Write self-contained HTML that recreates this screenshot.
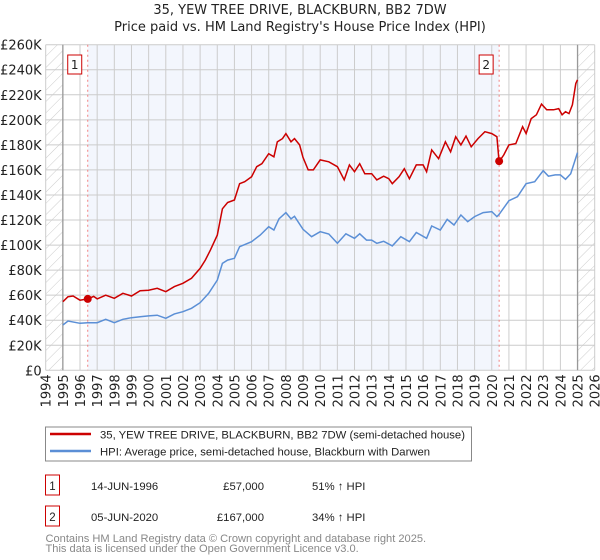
<!DOCTYPE html>
<html><head><meta charset="utf-8"><style>
body{margin:0;background:#fff;font-family:"Liberation Sans","DejaVu Sans",sans-serif;}
svg{display:block}
text{font-family:"DejaVu Sans","Liberation Sans",sans-serif;}
text.lib{font-family:"Liberation Sans","DejaVu Sans",sans-serif;}
</style></head><body>
<svg id="c" width="600" height="560"></svg>
<script>
const redYears=[1995,1995.3,1995.6,1996,1996.45,1996.8,1997,1997.5,1998,1998.5,1999,1999.5,2000,2000.5,2001,2001.5,2002,2002.5,2003,2003.3,2003.6,2004,2004.3,2004.6,2005,2005.3,2005.6,2006,2006.3,2006.6,2007,2007.3,2007.5,2007.8,2008,2008.3,2008.5,2008.8,2009,2009.3,2009.6,2010,2010.5,2011,2011.4,2011.7,2012,2012.3,2012.6,2013,2013.3,2013.7,2014,2014.2,2014.6,2014.9,2015.2,2015.6,2016,2016.2,2016.5,2016.9,2017.3,2017.6,2017.9,2018.2,2018.5,2018.8,2019.2,2019.6,2020,2020.3,2020.43,2020.7,2021,2021.4,2021.8,2022,2022.3,2022.6,2022.9,2023.2,2023.6,2023.9,2024.1,2024.3,2024.5,2024.7,2024.9,2025];
const redVals=[54.8,58.8,59.3,56,57,59,57,60,57.5,61.5,59.3,63.6,64,65.5,62.8,66.8,69.5,73.5,81.4,88,96,108,129,134,136,149,150.6,154.6,162.6,165,173,170.5,182.5,185,189,182.5,185,180,170,160,160,168,166.5,162.6,152,164,158.6,165,157,157,152,155,153,149,154.6,161,153,164,164,158.6,176,169,182.5,174.5,186.5,180,187,178.5,185,190.5,189,186.5,166.6,172,180,181,194.5,189,201,204,212.6,208,208,209,204,206.5,205,212,229,232];
const hpiYears=[1995,1995.3,1996,1996.45,1997,1997.5,1998,1998.5,1999,1999.5,2000,2000.5,2001,2001.5,2002,2002.5,2003,2003.5,2004,2004.3,2004.6,2005,2005.3,2006,2006.5,2007,2007.3,2007.6,2008,2008.3,2008.5,2009,2009.5,2010,2010.5,2011,2011.5,2012,2012.3,2012.7,2013,2013.3,2013.7,2014.2,2014.7,2015.2,2015.6,2016.2,2016.5,2017,2017.4,2017.8,2018.2,2018.6,2019,2019.5,2020,2020.3,2020.43,2021,2021.5,2022,2022.5,2023,2023.3,2023.7,2024,2024.3,2024.6,2025];
const hpiVals=[36.2,39.4,37.5,38,38,40.7,38,40.7,42,42.8,43.4,44,41.5,45,46.8,49.5,54,61.5,72,85.4,88,89.4,98.7,102.7,108,114.7,112,121,125.9,121,123,112.6,106.7,110.7,108.8,101.4,109,105.4,109,104,104,101.4,103,99.3,106.7,102.7,110,105.4,115.2,112,120.5,116,124,118.7,122.7,125.9,126.7,122.7,124.5,135.4,138.6,149,150.6,159.4,155,156,156,152.5,157,173.8];
const saleYears=[1996.45,2020.43];
const saleVals=[57,167];
const saleLabels=["1","2"];
const yTicks=[0,20,40,60,80,100,120,140,160,180,200,220,240,260];
const yTickLabels=["£0","£20K","£40K","£60K","£80K","£100K","£120K","£140K","£160K","£180K","£200K","£220K","£240K","£260K"];
const xTicks=[1994,1995,1996,1997,1998,1999,2000,2001,2002,2003,2004,2005,2006,2007,2008,2009,2010,2011,2012,2013,2014,2015,2016,2017,2018,2019,2020,2021,2022,2023,2024,2025,2026];

const L=45.7,R=594.7,T=44.7,B=370.3;
const X=y=>L+(y-1994)/32*(R-L);
const Y=v=>B-v/260*(B-T);
const svg=document.getElementById('c');
const NS='http://www.w3.org/2000/svg';
function mk(tag,attrs,parent){const e=document.createElementNS(NS,tag);for(const k in attrs)e.setAttribute(k,attrs[k]);(parent||svg).appendChild(e);return e;}

const defs=mk('defs',{});
const pat=mk('pattern',{id:'hatch',width:8,height:8,patternUnits:'userSpaceOnUse',patternTransform:'rotate(45)'},defs);
mk('line',{x1:0,y1:0,x2:0,y2:8,stroke:'#ccc','stroke-width':1},pat);

const t1=mk('text',{x:300,y:14,'text-anchor':'middle','font-size':13,fill:'#222'});t1.textContent='35, YEW TREE DRIVE, BLACKBURN, BB2 7DW';


const t2=mk('text',{x:300,y:31,'text-anchor':'middle','font-size':13,fill:'#222'});t2.textContent="Price paid vs. HM Land Registry's House Price Index (HPI)";



const hl=mk('rect',{x:L,y:T,width:X(1995)-L,height:B-T,fill:'url(#hatch)'});


const hr=mk('rect',{x:X(2025),y:T,width:R-X(2025),height:B-T,fill:'url(#hatch)'});


const sh=mk('rect',{x:X(saleYears[0]),y:T,width:X(saleYears[1])-X(saleYears[0]),height:B-T,fill:'#f3f6fd'});



xTicks.forEach(t=>{const g=mk('line',{x1:X(t),x2:X(t),y1:T,y2:B,stroke:'#ccc','stroke-width':1});


const tx=mk('text',{x:0,y:0,'font-size':13,fill:'#222','text-anchor':'end',transform:`translate(${X(t)+5},${B+4}) rotate(-90)`});tx.textContent=t;

});
yTicks.forEach((v,i)=>{const g=mk('line',{x1:L,x2:R,y1:Y(v),y2:Y(v),stroke:'#ccc','stroke-width':1});


const tx=mk('text',{x:L-4,y:Y(v)+5,'font-size':13,fill:'#222','text-anchor':'end'});tx.textContent=yTickLabels[i];

});
[1995,2025].forEach(t=>{const g=mk('line',{x1:X(t),x2:X(t),y1:T,y2:B,stroke:'#999','stroke-width':1.3});

});

saleYears.forEach((s,i)=>{const g=mk('line',{x1:X(s),x2:X(s),y1:T,y2:B,stroke:'#f08080','stroke-width':1,'stroke-dasharray':'2,3'});


const r=mk('rect',{x:X(s)-20,y:55,width:14,height:19,fill:'#fff',stroke:'#c00','stroke-width':1});


const tx=mk('text',{x:X(s)-13,y:69,'font-size':12,'text-anchor':'middle',fill:'#222'});tx.textContent=saleLabels[i];

});

const hp=mk('path',{d:hpiYears.map((y,i)=>(i?'L':'M')+X(y).toFixed(1)+','+Y(hpiVals[i]).toFixed(1)).join(''),fill:'none',stroke:'#5b8fd6','stroke-width':1.5});


const rp=mk('path',{d:redYears.map((y,i)=>(i?'L':'M')+X(y).toFixed(1)+','+Y(redVals[i]).toFixed(1)).join(''),fill:'none',stroke:'#cc0000','stroke-width':1.5});


saleYears.forEach((s,i)=>{const c=mk('circle',{cx:X(s),cy:Y(saleVals[i]),r:4,fill:'#cc0000'});

});

const lg=mk('rect',{x:45.5,y:427,width:426,height:34,fill:'#fff',stroke:'#888','stroke-width':1});


[['#cc0000','35, YEW TREE DRIVE, BLACKBURN, BB2 7DW (semi-detached house)',434,'legend-entry-property'],['#5b8fd6','HPI: Average price, semi-detached house, Blackburn with Darwen',451,'legend-entry-hpi']].forEach(e=>{
const l=mk('line',{x1:50,x2:91,y1:e[2],y2:e[2],stroke:e[0],'stroke-width':2.5});


const tx=mk('text',{class:'lib',x:100,y:e[2]+4.5,'font-size':11.3,fill:'#222'});tx.textContent=e[1];

});

[['1','14-JUN-1996','£57,000','51% ↑ HPI',475],['2','05-JUN-2020','£167,000','34% ↑ HPI',506]].forEach(r=>{
const b=mk('rect',{x:45.5,y:r[4],width:14,height:20,fill:'#fff',stroke:'#c00','stroke-width':1});


const y=r[4]+15;
const a=mk('text',{class:'lib',x:52.5,y:y,'font-size':11.5,'text-anchor':'middle',fill:'#222'});a.textContent=r[0];


const d=mk('text',{class:'lib',x:91,y:y,'font-size':11.3,fill:'#222'});d.textContent=r[1];


const p=mk('text',{class:'lib',x:264,y:y,'font-size':11.3,fill:'#222','text-anchor':'end'});p.textContent=r[2];


const h=mk('text',{class:'lib',x:312,y:y,'font-size':11.3,fill:'#222'});h.textContent=r[3];

});

const f1=mk('text',{class:'lib',x:45.5,y:542,'font-size':11.1,fill:'#888'});f1.textContent='Contains HM Land Registry data © Crown copyright and database right 2025.';


const f2=mk('text',{class:'lib',x:45.5,y:552,'font-size':11.1,fill:'#888'});f2.textContent='This data is licensed under the Open Government Licence v3.0.';


</script>
</body></html>
